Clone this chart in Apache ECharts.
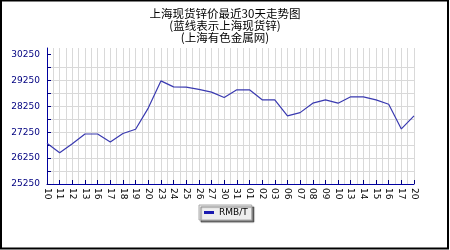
<!DOCTYPE html>
<html>
<head>
<meta charset="utf-8">
<script src="https://cdn.jsdelivr.net/npm/echarts@6/dist/echarts.min.js"></script>
<style>
html,body{margin:0;padding:0;background:#fff;}
#c{width:450px;height:250px;}
</style>
</head>
<body>
<div id="c"></div>
<script>
const titleLines = ['上海现货锌价最近30天走势图', '(蓝线表示上海现货锌)', '(上海有色金属网)'];
const categories = ['10','11','12','13','16','17','18','19','20','23','24','25','26','27','30','31','01','02','03','06','07','08','09','10','13','14','15','16','17','20'];
const prices = [26820,26460,26800,27180,27180,26875,27200,27365,28180,29230,29000,28990,28900,28795,28590,28885,28885,28500,28500,27880,28005,28370,28500,28370,28615,28615,28500,28330,27375,27880];
const yLabelValues = [25250,26250,27250,28250,29250,30250];
const yTickValues = [25250,25750,26250,26750,27250,27750,28250,28750,29250,29750,30250];
const seriesName = 'RMB/T';

const chart = echarts.init(document.getElementById('c'));
chart.setOption({
  animation: false,
  backgroundColor: '#ffffff',
  title: {
    text: titleLines.join('\n'),
    left: 'center',
    top: 3,
    textStyle: {fontSize: 11.5, lineHeight: 12, fontWeight: 'normal', color: '#000', fontFamily: 'Noto Sans CJK SC'}
  },
  legend: {
    data: [seriesName],
    left: 199,
    top: 205,
    padding: [3, 4, 3, 5],
    itemWidth: 10,
    itemHeight: 3,
    itemGap: 4,
    icon: 'rect',
    backgroundColor: '#eeeeee',
    borderColor: '#aaaaaa',
    borderWidth: 1,
    shadowColor: 'rgba(0,0,0,0.5)',
    shadowOffsetX: 2,
    shadowOffsetY: 2,
    shadowBlur: 1,
    textStyle: {fontSize: 9, color: '#000', fontFamily: 'DejaVu Sans'}
  },
  grid: {left: 47, right: 36, top: 48, bottom: 66, containLabel: false},
  xAxis: [{
    type: 'category',
    data: categories,
    boundaryGap: false,
    axisLine: {lineStyle: {color: '#0000a0', width: 1}},
    axisTick: {inside: true, length: 4, lineStyle: {color: '#000080'}, interval: 0},
    axisLabel: {rotate: -90, interval: 0, fontSize: 9, color: '#000', margin: 4, fontFamily: 'DejaVu Sans'},
    splitLine: {show: false}
  }, {
    type: 'value',
    min: 0,
    max: categories.length - 1,
    interval: 0.5,
    show: true,
    position: 'bottom',
    axisLine: {show: false},
    axisTick: {show: false},
    axisLabel: {show: false},
    splitLine: {show: true, lineStyle: {color: '#d9d9d9', width: 1}}
  }],
  yAxis: {
    type: 'value',
    min: 25250,
    max: 30500,
    interval: 250,
    axisLine: {show: true, lineStyle: {color: '#0000a0', width: 1}},
    axisTick: {show: true, inside: true, length: 4, customValues: yTickValues, lineStyle: {color: '#000080'}},
    axisLabel: {customValues: yLabelValues, formatter: v => String(v), fontSize: 9, color: '#000080', margin: 7, fontFamily: 'DejaVu Sans'},
    splitLine: {show: true, showMaxLine: false, lineStyle: {color: '#d9d9d9', width: 1}}
  },
  series: [{
    name: seriesName,
    type: 'line',
    data: prices,
    xAxisIndex: 0,
    symbol: 'none',
    lineStyle: {color: '#3a3ab0', width: 1.2},
    itemStyle: {color: '#1a1ab0'}
  }],
  graphic: [{
    type: 'rect',
    shape: {x: 1, y: 0.5, width: 447, height: 248},
    style: {fill: 'none', stroke: '#000', lineWidth: 2},
    silent: true,
    z: 100
  }]
});
</script>
</body>
</html>
